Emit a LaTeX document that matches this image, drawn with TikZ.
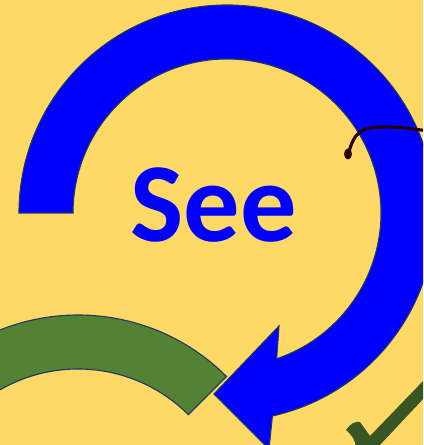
\documentclass[tikz,border=0pt]{standalone}
\usepackage{fontspec}
\setmainfont{Carlito}
\usetikzlibrary{calc}

\definecolor{bgyellow}{HTML}{FFD966}
\definecolor{cycleblue}{HTML}{0000FF}
\definecolor{cyclegreen}{HTML}{548235}
\definecolor{edgenavy}{HTML}{1F3864}
\definecolor{tickgreen}{HTML}{375623}

\begin{document}
\begin{tikzpicture}[
  x=0.025cm, y=0.025cm,
  band/.style={draw=edgenavy, line width=0.8pt, line join=miter},
  word/.style={font=\fontsize{80}{80}\selectfont\bfseries, text=cycleblue, inner sep=0pt},
  tick/.style={fill=tickgreen, draw=none},
  pen/.style={draw=black!85!red, line width=2.2pt, line cap=round}
]

% ==================== Frame ====================
\clip (0,0) rectangle (423,445);
\fill[bgyellow] (0,0) rectangle (423,445);

\coordinate (bluec) at (227,232);
\coordinate (greenc) at (78,-80);

% ==================== Green step (lower left) ====================
\path[band, fill=cyclegreen]
  ($(greenc)+(45:210)$) arc[start angle=45, end angle=135, radius=210]
  -- ($(greenc)+(135:156)$) arc[start angle=135, end angle=45, radius=156]
  -- cycle;

% ==================== Blue circular arrow ====================
\path[band, fill=cycleblue]
  ($(bluec)+(180:208)$) arc[start angle=180, end angle=-77.4, radius=208]
  -- (269,-4) -- (214,51) -- (279,119)
  -- ($(bluec)+(-71.2:154)$) arc[start angle=-71.2, end angle=180, radius=154]
  -- cycle;

% ==================== Label ====================
\node[word, anchor=base] (see) at (214,203) {See};

% ==================== Pen stroke (right) ====================
\draw[pen] (349,293) .. controls (352,305) and (357,315) .. (370,317)
  .. controls (392,320) and (410,316) .. (430,314);
\fill[black!85!red] (348,291) ellipse[x radius=4, y radius=5.5];

% ==================== Check mark ====================
\path[tick] (346,15) .. controls (350,21) and (355,24) .. (360,23)
  -- (370,9) -- (425,66) -- (425,48) -- (378,-2) -- (356,-2)
  .. controls (355,5) and (352,10) .. cycle;

\end{tikzpicture}
\end{document}
